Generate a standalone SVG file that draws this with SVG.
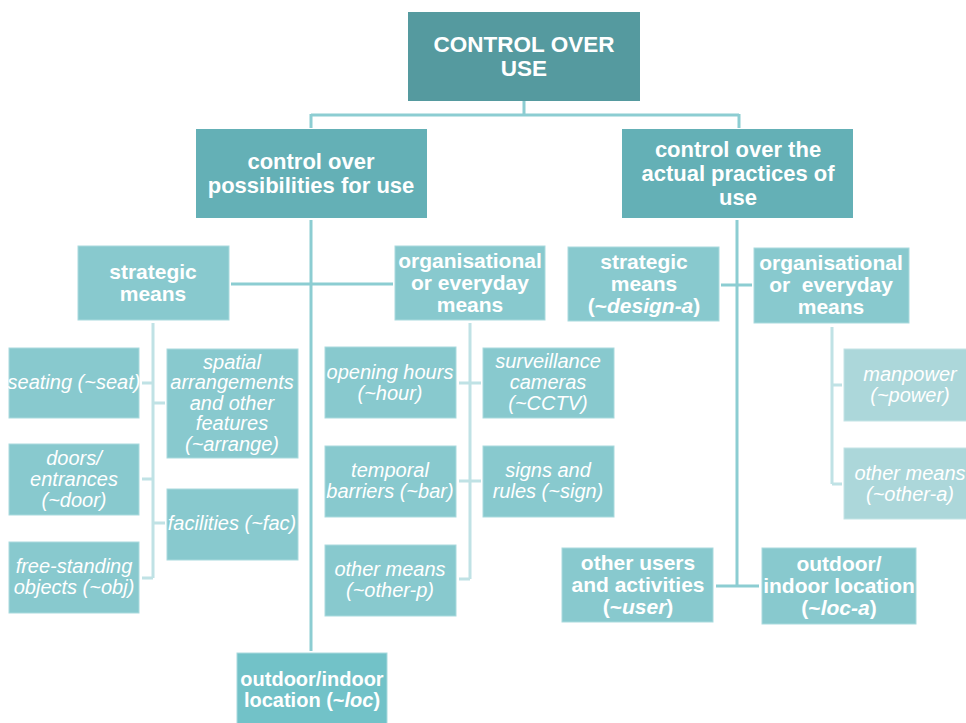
<svg xmlns="http://www.w3.org/2000/svg" width="966" height="723" viewBox="0 0 966 723">
  <style>
    .t { font-family: "Liberation Sans", Arial, sans-serif; fill: #ffffff; text-anchor: middle; }
    .b { font-weight: bold; }
    .i { font-style: italic; }
    .s1 { font-size: 22.5px; }
    .s2 { font-size: 22px; }
    .s3 { font-size: 21px; }
    .s4 { font-size: 20px; }
    .top { fill: #559a9f; }
    .l2 { fill: #64b0b6; }
    .l3 { fill: #88c9ce; stroke: #a9dade; stroke-width: 1; }
    .loc { fill: #72c2c8; stroke: #a9dade; stroke-width: 1; }
    .pale { fill: #acd7da; stroke: #c4e4e6; stroke-width: 1; }
    .main { stroke: #8ccdd2; stroke-width: 3; fill: none; }
    .sub { stroke: #c0e2e5; stroke-width: 3; fill: none; }
    .pre { white-space: pre; }
  </style>

  <!-- connectors -->
  <g id="connectors">
    <path class="main" d="M524 101 V115 M311 115 H739 M311 114 V128 M739 114 V128"/>
    <path class="main" d="M311 220 V651 M231 284 H393"/>
    <path class="main" d="M737 220 V586 M721 285 H752 M716 586 H759"/>
    <path class="sub" d="M153 323 V578 M142 383 H153 M153 403 H165 M142 479 H153 M153 523 H165 M142 578 H153"/>
    <path class="sub" d="M470 323 V579 M459 383 H481 M459 481 H481 M459 579 H470"/>
    <path class="sub" d="M832 327 V484 M832 385 H842 M832 484 H842"/>
  </g>

  <!-- root -->
  <g id="control-over-use">
    <rect class="top" x="408" y="12" width="232" height="89"/>
    <text class="t b s1" x="524" y="52">CONTROL OVER</text>
    <text class="t b s1" x="524" y="76">USE</text>
  </g>

  <!-- second level -->
  <g id="possibilities">
    <rect class="l2" x="196" y="129" width="231" height="89"/>
    <text class="t b s2" x="311" y="169">control over</text>
    <text class="t b s2" x="311" y="193">possibilities for use</text>
  </g>
  <g id="practices">
    <rect class="l2" x="622" y="129" width="231" height="89"/>
    <text class="t b s2" x="738" y="157">control over the</text>
    <text class="t b s2" x="738" y="181">actual practices of</text>
    <text class="t b s2" x="738" y="205">use</text>
  </g>

  <!-- left branch: means -->
  <g id="strategic-p">
    <rect class="l3" x="78" y="246" width="151" height="74"/>
    <text class="t b s3" x="153" y="279">strategic</text>
    <text class="t b s3" x="153" y="301">means</text>
  </g>
  <g id="organisational-p">
    <rect class="l3" x="395" y="246" width="150" height="74"/>
    <text class="t b s3" x="470" y="268">organisational</text>
    <text class="t b s3" x="470" y="290">or everyday</text>
    <text class="t b s3" x="470" y="312">means</text>
  </g>

  <!-- strategic means children -->
  <g id="seat">
    <rect class="l3" x="9" y="348" width="130" height="70"/>
    <text class="t i s4" x="74" y="389">seating (~seat)</text>
  </g>
  <g id="arrange">
    <rect class="l3" x="167" y="349" width="131" height="109"/>
    <text class="t i s4" x="232" y="369">spatial</text>
    <text class="t i s4" x="232" y="389">arrangements</text>
    <text class="t i s4" x="232" y="410">and other</text>
    <text class="t i s4" x="232" y="430">features</text>
    <text class="t i s4" x="232" y="451">(~arrange)</text>
  </g>
  <g id="door">
    <rect class="l3" x="9" y="444" width="130" height="71"/>
    <text class="t i s4" x="74" y="465">doors/</text>
    <text class="t i s4" x="74" y="486">entrances</text>
    <text class="t i s4" x="74" y="507">(~door)</text>
  </g>
  <g id="fac">
    <rect class="l3" x="167" y="489" width="131" height="71"/>
    <text class="t i s4" x="232" y="530">facilities (~fac)</text>
  </g>
  <g id="obj">
    <rect class="l3" x="9" y="542" width="130" height="71"/>
    <text class="t i s4" x="74" y="573">free-standing</text>
    <text class="t i s4" x="74" y="594">objects (~obj)</text>
  </g>

  <!-- organisational means children -->
  <g id="hour">
    <rect class="l3" x="325" y="347" width="131" height="71"/>
    <text class="t i s4" x="390" y="379">opening hours</text>
    <text class="t i s4" x="390" y="400">(~hour)</text>
  </g>
  <g id="cctv">
    <rect class="l3" x="483" y="348" width="131" height="70"/>
    <text class="t i s4" x="548" y="368">surveillance</text>
    <text class="t i s4" x="548" y="389">cameras</text>
    <text class="t i s4" x="548" y="410">(~CCTV)</text>
  </g>
  <g id="bar">
    <rect class="l3" x="325" y="446" width="131" height="71"/>
    <text class="t i s4" x="390" y="477">temporal</text>
    <text class="t i s4" x="390" y="498">barriers (~bar)</text>
  </g>
  <g id="sign">
    <rect class="l3" x="483" y="446" width="131" height="71"/>
    <text class="t i s4" x="548" y="477">signs and</text>
    <text class="t i s4" x="548" y="498">rules (~sign)</text>
  </g>
  <g id="other-p">
    <rect class="l3" x="325" y="545" width="131" height="71"/>
    <text class="t i s4" x="390" y="576">other means</text>
    <text class="t i s4" x="390" y="597">(~other-p)</text>
  </g>

  <g id="loc">
    <rect class="loc" x="237" y="653" width="150" height="72"/>
    <text class="t b" font-size="20" x="312" y="686">outdoor/indoor</text>
    <text class="t b" font-size="20" x="312" y="707">location (~<tspan class="i">loc</tspan>)</text>
  </g>

  <!-- right branch -->
  <g id="design-a">
    <rect class="l3" x="568" y="247" width="151" height="74"/>
    <text class="t b s3" x="644" y="269">strategic</text>
    <text class="t b s3" x="644" y="291">means</text>
    <text class="t b s3" x="644" y="313">(~<tspan class="i">design-a</tspan>)</text>
  </g>
  <g id="organisational-a">
    <rect class="l3" x="754" y="248" width="155" height="75"/>
    <text class="t b s3" x="831" y="270">organisational</text>
    <text class="t b s3 pre" x="831" y="292">or  everyday</text>
    <text class="t b s3" x="831" y="314">means</text>
  </g>
  <g id="power">
    <rect class="pale" x="844" y="349" width="124" height="72"/>
    <text class="t i s4" x="910" y="381">manpower</text>
    <text class="t i s4" x="910" y="402">(~power)</text>
  </g>
  <g id="other-a">
    <rect class="pale" x="844" y="448" width="124" height="71"/>
    <text class="t i s4" x="910" y="480">other means</text>
    <text class="t i s4" x="910" y="501">(~other-a)</text>
  </g>
  <g id="user">
    <rect class="l3" x="562" y="548" width="151" height="74"/>
    <text class="t b s3" x="638" y="570">other users</text>
    <text class="t b s3" x="638" y="592">and activities</text>
    <text class="t b s3" x="638" y="614">(~<tspan class="i">user</tspan>)</text>
  </g>
  <g id="loc-a">
    <rect class="l3" x="762" y="548" width="154" height="76"/>
    <text class="t b s3" x="839" y="571">outdoor/</text>
    <text class="t b s3" x="839" y="593">indoor location</text>
    <text class="t b s3" x="839" y="615">(~<tspan class="i">loc-a</tspan>)</text>
  </g>
</svg>
